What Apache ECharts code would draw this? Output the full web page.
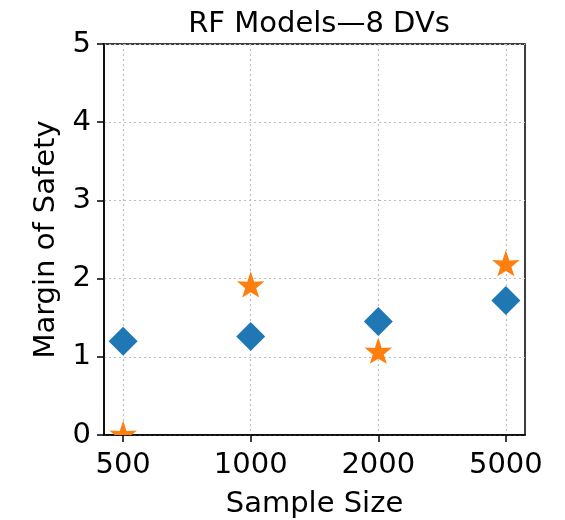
<!DOCTYPE html>
<html lang="en">
<head>
    <meta charset="UTF-8">
    <title>RF Models</title>
    <script src="https://cdn.jsdelivr.net/npm/echarts@6/dist/echarts.min.js"></script>
    <style>
        body { margin: 0; background: #fff; }
        #main { width: 565px; height: 520px; }
    </style>
</head>
<body>
<div id="main"></div>
<script type="text/javascript">
    // sample sizes (x categories)
    var sampleSizes = ['500', '1000', '2000', '5000'];
    // margin of safety values
    var diamondVals = [1.20, 1.26, 1.45, 1.72];
    var starVals = [0.0, 1.91, 1.06, 2.18];
    var yTicks = [0, 1, 2, 3, 4, 5];

    function toPoints(vals) {
        var pts = [];
        for (var i = 0; i < vals.length; i++) {
            pts.push([i, vals[i]]);
        }
        return pts;
    }

    // 5-point star, circumscribed circle centre (50,50) radius 50
    var starD = 'M50,0 L61.8,36.2 L97.6,34.5 L69.1,58.6 L79.4,90.5 L50,72.6 L20.6,90.5 L30.9,58.6 L2.4,34.5 L38.2,36.2 Z';
    var starR = 14.5;

    var font = 'DejaVu Sans';
    var myChart = echarts.init(document.getElementById('main'));
    var option = {
        animation: false,
        title: {
            text: 'RF Models\u20148 DVs',
            left: 314,
            textAlign: 'center',
            top: 5,
            textStyle: { fontFamily: font, fontSize: 29, fontWeight: 'normal', color: '#000' }
        },
        grid: {
            left: 104, right: 40, top: 44, bottom: 85,
            outerBoundsMode: 'none',
            containLabel: false,
            show: true, borderColor: '#000', borderWidth: 1.5
        },
        xAxis: {
            type: 'value',
            min: -0.15,
            max: 3.15,
            name: 'Sample Size',
            nameLocation: 'middle',
            nameGap: 55,
            nameTextStyle: { fontFamily: font, fontSize: 29, color: '#000' },
            axisLine: { show: true, onZero: false, lineStyle: { color: '#000', width: 1.5 } },
            axisTick: { show: true, length: 7, customValues: [0, 1, 2, 3], lineStyle: { color: '#000', width: 1.5 } },
            axisLabel: {
                customValues: [0, 1, 2, 3],
                fontFamily: font, fontSize: 29, color: '#000', margin: 16,
                formatter: function (v) { return sampleSizes[Math.round(v)]; }
            },
            splitLine: { show: true, lineStyle: { color: '#bdbdbd', type: [2, 3], width: 1.2 } }
        },
        yAxis: {
            type: 'value',
            min: 0,
            max: 5,
            interval: 1,
            name: 'Margin of Safety',
            nameLocation: 'middle',
            nameGap: 43,
            nameTextStyle: { fontFamily: font, fontSize: 29, color: '#000' },
            axisLine: { show: true, onZero: false, lineStyle: { color: '#000', width: 1.5 } },
            axisTick: { show: true, length: 7, lineStyle: { color: '#000', width: 1.5 } },
            axisLabel: {
                fontFamily: font, fontSize: 29, color: '#000', margin: 13,
                formatter: function (v) { return yTicks.indexOf(v) >= 0 ? String(v) : ''; }
            },
            splitLine: { show: true, lineStyle: { color: '#bdbdbd', type: [2, 3], width: 1.2 } }
        },
        series: [{
            name: 'diamond',
            type: 'scatter',
            symbol: 'diamond',
            symbolSize: [29, 29],
            itemStyle: { color: '#1f77b4', opacity: 1 },
            data: toPoints(diamondVals),
            z: 2
        }, {
            name: 'star',
            type: 'custom',
            data: toPoints(starVals),
            z: 3,
            renderItem: function (params, api) {
                var p = api.coord([api.value(0), api.value(1)]);
                var cs = params.coordSys;
                return {
                    type: 'path',
                    shape: {
                        pathData: starD,
                        x: p[0] - starR + starR * 2 * 0.024,
                        y: p[1] - starR,
                        width: starR * 2 * 0.952,
                        height: starR * 2 * 0.905
                    },
                    style: { fill: '#ff7f0e' },
                    clipPath: {
                        type: 'rect',
                        shape: { x: cs.x, y: cs.y, width: cs.width, height: cs.height }
                    }
                };
            }
        }]
    };
    myChart.setOption(option);
</script>
</body>
</html>
